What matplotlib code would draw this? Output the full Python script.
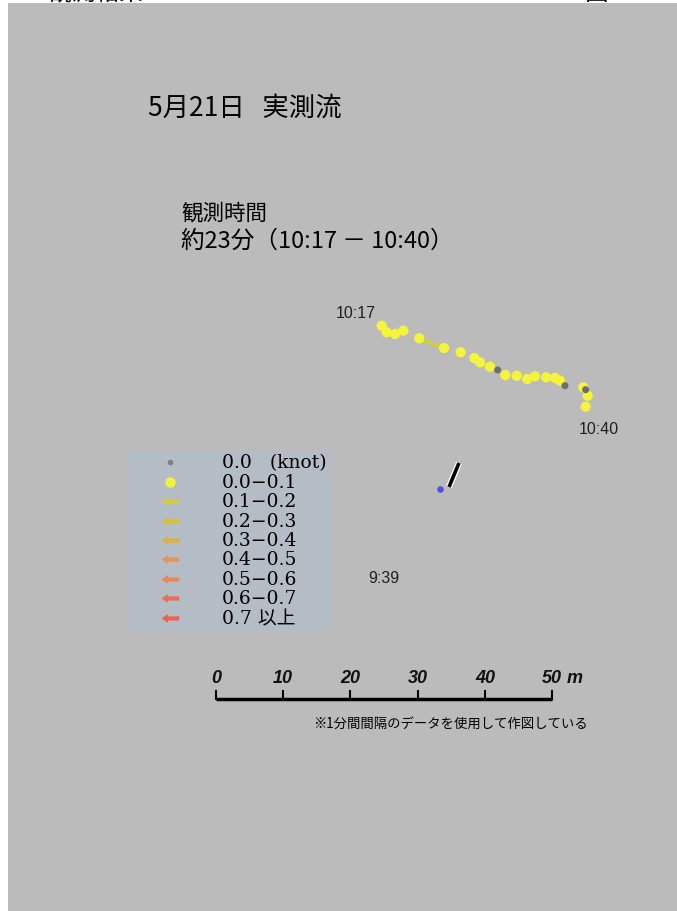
import matplotlib.pyplot as plt
import matplotlib.patheffects as pe
from matplotlib.patches import Rectangle
from matplotlib.path import Path
import numpy as np

plt.rcParams['font.family'] = ['Noto Sans CJK JP', 'DejaVu Sans']

# track positions (m, relative to the scale bar origin) and speed class per minute
track_x = [24.66, 25.40, 26.64, 27.87, 30.25, 33.93, 36.41, 38.44, 39.29, 40.77, 41.92, 43.05,
           44.75, 46.32, 47.47, 49.11, 50.45, 51.19, 51.93, 54.66, 55.01, 55.31, 55.01]
track_y = [55.55, 54.57, 54.32, 54.81, 53.68, 52.23, 51.59, 50.74, 50.10, 49.45, 48.96, 48.21,
           48.11, 47.62, 48.02, 47.87, 47.77, 47.37, 46.62, 46.38, 46.03, 45.13, 43.51]
track_cls = [1, 1, 1, 1, 1, 1, 1, 1, 1, 1, 0, 1, 1, 1, 1, 1, 1, 1, 0, 1, 0, 1, 1]

# one 0.1-0.2 knot vector along the track
vec_start = (31.2, 53.3)
vec_end = (33.6, 52.3)

# start point of the earlier record (9:39)
start_x, start_y = 33.33, 31.25
drift_x = [34.67, 36.16]
drift_y = [31.55, 35.12]

legend_labels = ['0.0   (knot)', '0.0−0.1', '0.1−0.2', '0.2−0.3', '0.3−0.4',
                 '0.4−0.5', '0.5−0.6', '0.6−0.7', '0.7 以上']
legend_colors = ['#808080', '#f2f23c', '#d2cd3c', '#d7c332', '#e1af3c',
                 '#e69650', '#eb8755', '#eb6e50', '#eb5f55']

scale_ticks = [0, 10, 20, 30, 40, 50]

W, H = 677, 912
PX_PER_M = 6.72
X0, Y0 = 216, 700  # pixel position of the scale bar origin

fig = plt.figure(figsize=(W / 100, H / 100), dpi=100)
fig.patch.set_facecolor('white')
fig.patches.append(Rectangle((8 / W, 0), 1 - 8 / W, (H - 4) / H,
                             transform=fig.transFigure, facecolor='#bbbbbb',
                             edgecolor='none', zorder=-5))

# cut off page header
fig.text(30 / W, 1.0 + 6 / H, '2 観測結果', fontsize=17, color='black', va='center')
fig.text(585 / W, 1.0 + 6 / H, '図-9', fontsize=17, color='black', va='center')

ax = fig.add_axes([0, 0, 1, 1])
ax.set_xlim(-X0 / PX_PER_M, (W - X0) / PX_PER_M)
ax.set_ylim((Y0 - H) / PX_PER_M, Y0 / PX_PER_M)
ax.axis('off')
ax.patch.set_alpha(0)

tx = np.array(track_x)
ty = np.array(track_y)
cls = np.array(track_cls)
ax.plot([vec_start[0], vec_end[0]], [vec_start[1], vec_end[1]], color='#d2cd3c', lw=2.5, zorder=2)
ax.scatter(tx[cls == 1], ty[cls == 1], s=55, color='#f4f43a', edgecolors='none', zorder=3)
ax.scatter(tx[cls == 0], ty[cls == 0], s=26, color='#6e6e6e', edgecolors='none', zorder=4)

lbl_font = dict(fontsize=11.5, family='Liberation Sans', color='#202020')
ax.text(tx[0] - 3.9, ty[0] + 2.0, '10:17', ha='center', va='center', **lbl_font)
ax.text(tx[-1] + 1.9, ty[-1] - 3.3, '10:40', ha='center', va='center', **lbl_font)

ax.scatter([start_x], [start_y], s=14, color='#5050e6', zorder=4)
ax.plot(drift_x, drift_y, color='black', lw=2.6, solid_capstyle='butt',
        path_effects=[pe.Stroke(linewidth=4.5, foreground='white'), pe.Normal()], zorder=4)
ax.text(start_x - 8.4, start_y - 13.1, '9:39', ha='center', va='center', **lbl_font)

# scale bar
ax.plot([scale_ticks[0], scale_ticks[-1]], [0, 0], color='black', lw=2.5, solid_capstyle='butt')
for t in scale_ticks:
    ax.plot([t, t], [0, 1.2], color='black', lw=1.5)
    ax.text(t, 1.9, str(t), fontsize=13, style='italic', weight='bold', family='Liberation Sans',
            ha='center', va='bottom', color='#111111')
ax.text(scale_ticks[-1] + 2.2, 1.9, 'm', fontsize=13, style='italic', weight='bold',
        family='Liberation Sans', ha='left', va='bottom', color='#111111')
ax.text(55.4, -3.6, '※1分間間隔のデータを使用して作図している', fontsize=9.6,
        ha='right', va='center')

# titles
fig.text(148 / W, 1 - 108 / H, '5月21日   実測流', fontsize=19, va='center')
fig.text(181 / W, 1 - 213 / H, '観測時間', fontsize=15.5, va='center')
fig.text(181 / W, 1 - 241 / H, '約23分（10:17 － 10:40）', fontsize=17, va='center')

# legend
lax = fig.add_axes([128 / W, (H - 632) / H, 203 / W, 180 / H])
lax.set_facecolor('#b4bcc6')
for s in lax.spines.values():
    s.set_visible(False)
lax.set_xticks([])
lax.set_yticks([])
lax.set_xlim(0, 203)
lax.set_ylim(8 + 13 / 19.4, -11 / 19.4)

arrow = Path([(-1, 0), (-0.35, 0.45), (-0.35, 0.2), (1, 0.2), (1, -0.2),
              (-0.35, -0.2), (-0.35, -0.45), (-1, 0)],
             [Path.MOVETO] + [Path.LINETO] * 6 + [Path.CLOSEPOLY])
for i, (lab, col) in enumerate(zip(legend_labels, legend_colors)):
    if i == 0:
        lax.plot(42, i, 'o', ms=4, color=col, mec='none')
    elif i == 1:
        lax.plot(42, i, 'o', ms=7.5, color=col, mec='none')
    else:
        lax.plot(42, i, marker=arrow, ms=12, color=col, mec=col, mew=0.5)
    lax.text(94, i, lab, fontsize=13.5, va='center', ha='left',
             family=['DejaVu Serif', 'Noto Sans CJK JP'])

fig.savefig('out.png', dpi=100)
